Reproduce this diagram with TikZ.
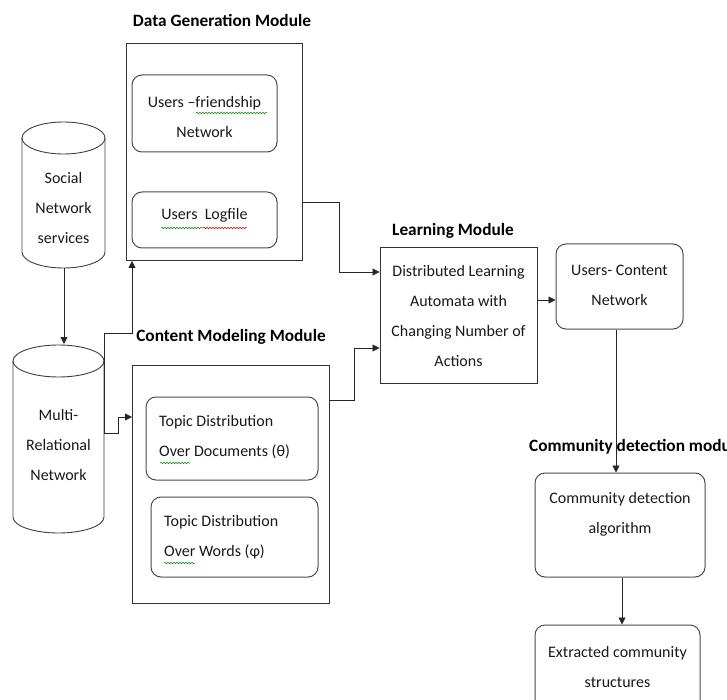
\documentclass[tikz,border=0pt]{standalone}
\usepackage{fontspec}
\setmainfont{Carlito}
\usetikzlibrary{arrows.meta,calc,decorations.pathmorphing}
\begin{document}
\begin{tikzpicture}[x=1pt,y=-1pt,
  txt/.style={font=\fontsize{16}{30}\selectfont,align=center,inner sep=0pt,text=black!90},
  ttl/.style={font=\fontsize{17.3}{20}\selectfont\bfseries,inner sep=0pt,text=black},
  sqbox/.style={draw=black!80,line width=0.9pt},
  rbox/.style={draw=black!70,line width=1pt,rounded corners=10pt},
  conn/.style={draw=black!85,line width=0.8pt},
  arr/.style={conn,-{Triangle[length=7pt,width=7pt]}},
  cyl/.style={draw=black!75,line width=0.9pt},
  wavy/.style={line width=0.5pt,decorate,decoration={snake,amplitude=0.8pt,segment length=3pt}}]
\useasboundingbox (0,0) rectangle (727,700);
\clip (0,0) rectangle (727,700);
\fill[white] (0,0) rectangle (727,700);

% cylinders
\draw[cyl] (22,138) -- (22,252) arc[start angle=180,end angle=0,x radius=41.5,y radius=16] -- (105,138);
\draw[cyl] (63.5,138) ellipse[x radius=41.5,y radius=16];
\node[txt] (sns) at (63.5,208) {Social\\Network\\services};
\coordinate (snsb) at (64,268);

\draw[cyl] (13,361) -- (13,517) arc[start angle=180,end angle=0,x radius=45.5,y radius=16] -- (104,361);
\draw[cyl] (58.5,361) ellipse[x radius=45.5,y radius=16];
\node[txt] (mrn) at (58.5,445) {Multi-\\Relational\\Network};
\coordinate (mrnt) at (64,344);
\coordinate (mrnr) at (104,433);

% Data generation module
\node[ttl] (t1) at (222,20) {Data Generation Module};
\draw[sqbox] (126,43) rectangle (302,260);
\coordinate (dgmb) at (132,261);
\coordinate (dgmr) at (302,202);
\draw[rbox] (132,75) rectangle (277,152);
\node[txt] (uf) at (204.5,117) {Users –friendship\\Network};
\draw[rbox] (132,192) rectangle (277,248);
\node[txt] (log) at (204.5,215) {Users\ \ Logfile};
\draw[wavy,green!55!black] (196,113) -- (267,113);
\draw[wavy,green!55!black] (161,228) -- (203,228);
\draw[wavy,red!80!black] (203,228) -- (247,228);

% Content modeling module
\node[ttl] (t2) at (231,337) {Content Modeling Module};
\draw[sqbox] (132,365) rectangle (329,603);
\coordinate (cmml) at (132,417);
\coordinate (cmmr) at (329,400);
\draw[rbox] (146,397) rectangle (318,480);
\node[txt,align=left,anchor=west] (td1) at (159,437.5) {Topic Distribution\\Over Documents (θ)};
\draw[rbox] (151,497) rectangle (318,577);
\node[txt,align=left,anchor=west] (td2) at (164,537.5) {Topic Distribution\\Over Words (φ)};
\draw[wavy,green!55!black] (160,463) -- (190,463);
\draw[wavy,green!55!black] (164,563) -- (195,563);

% Learning module
\node[ttl] (t3) at (453,231) {Learning Module};
\node[sqbox,minimum width=157pt,minimum height=136pt,inner sep=0pt] (learn) at (458.5,315) {};
\node[txt] (lt) at (458.5,316.5) {Distributed Learning\\Automata with\\Changing Number of\\Actions};

% Users-content network
\node[rbox,minimum width=127pt,minimum height=85pt,inner sep=0pt] (ucn) at (619.5,286.5) {};
\node[txt] (ucnt) at (619.5,285) {Users- Content\\Network};

% Community detection
\node[ttl,anchor=west] (t4) at (529,447) {Community detection module};
\node[rbox,minimum width=170pt,minimum height=104pt,inner sep=0pt] (cda) at (620,525) {};
\node[txt] (cdat) at (620,514) {Community detection\\algorithm};
\node[rbox,minimum width=165pt,minimum height=90pt,inner sep=0pt] (ext) at (617.5,670) {};
\node[txt] (extt) at (617.5,667) {Extracted community\\structures};

% connectors
\draw[arr] (snsb) -- (mrnt);
\draw[arr] (mrnr) -- (104,333) -- (132,333) -- (dgmb);
\draw[arr] (mrnr) -- (118,433) -- (118,417) -- (cmml);
\draw[arr] (dgmr) -- (339,202) |- (learn.west |- 0,272);
\draw[arr] (cmmr) -- (354,400) |- (learn.west |- 0,348);
\draw[arr] (learn.east |- 0,300) -- (ucn.west |- 0,300);
\draw[arr] (ucn.south -| 616,0) -- (cda.north -| 616,0);
\draw[arr] (cda.south -| 622,0) -- (ext.north -| 622,0);
\end{tikzpicture}
\end{document}
